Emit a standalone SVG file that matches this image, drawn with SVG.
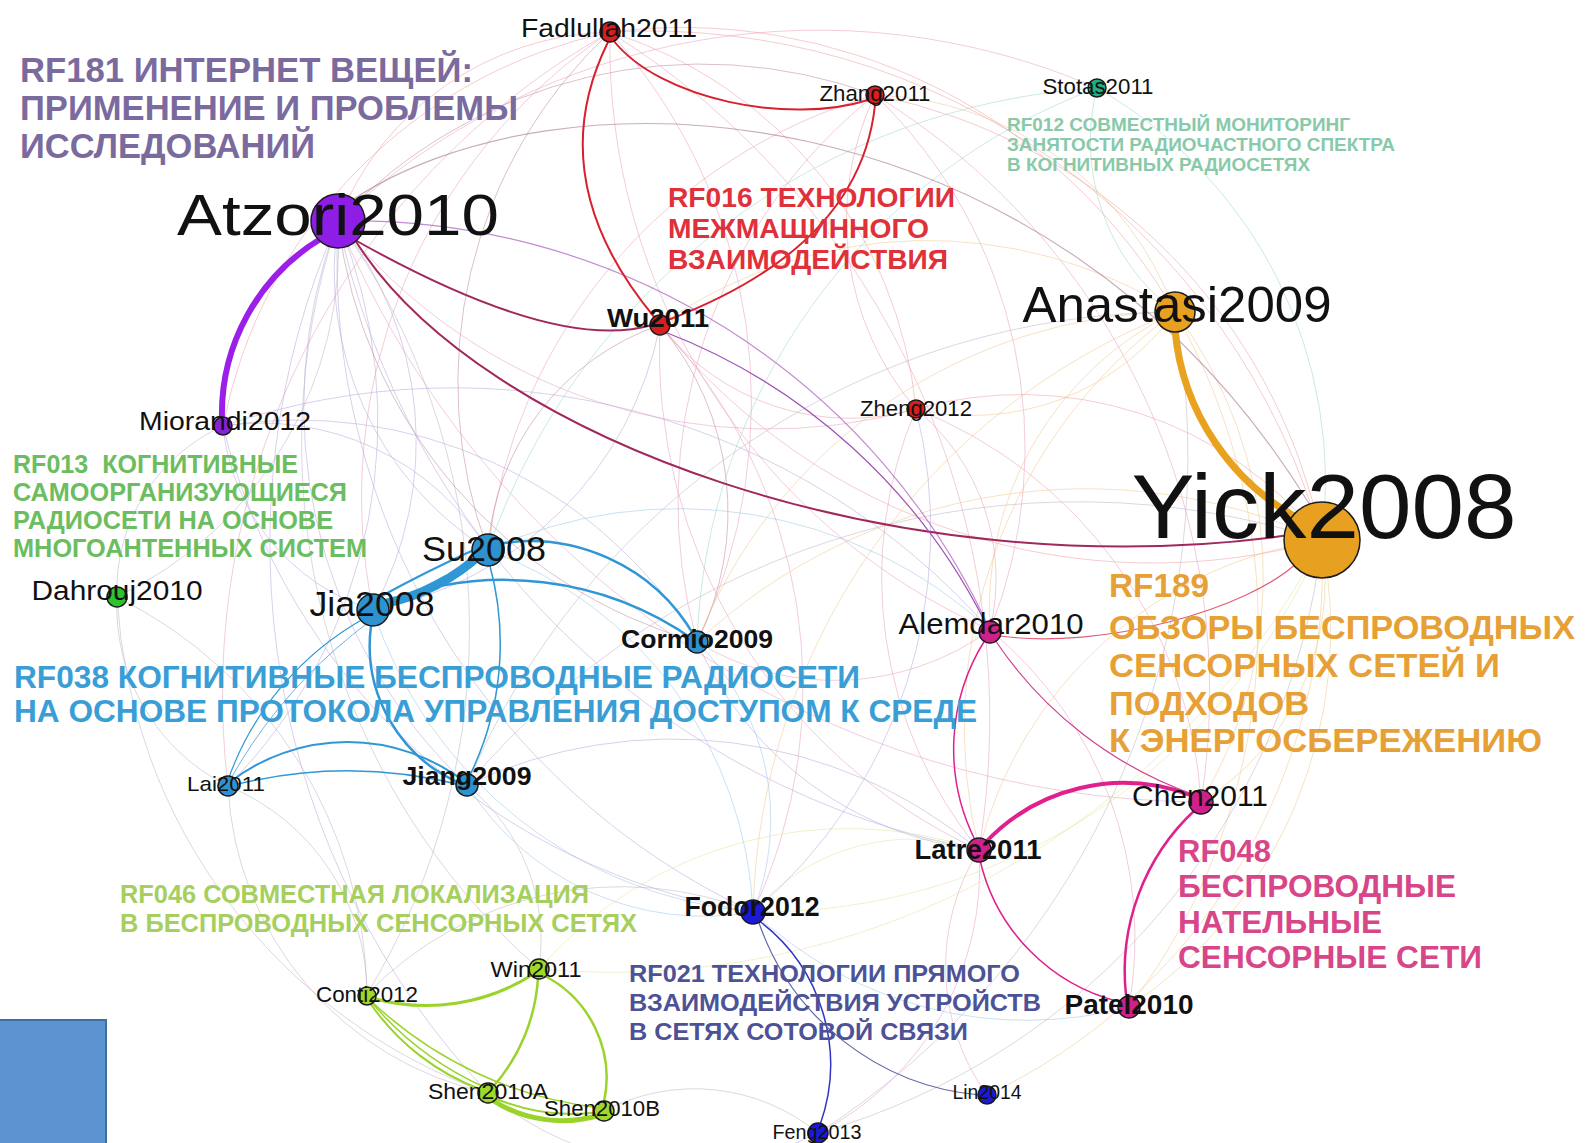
<svg xmlns="http://www.w3.org/2000/svg" width="1591" height="1143" viewBox="0 0 1591 1143">
<style>
  .e { fill: none; stroke-width: 1; opacity: .55 }
  .fp { stroke: #e7a2be } .fl { stroke: #b9a9dc } .fg { stroke: #bdb6c4 }
  .fr { stroke: #eea0a6 } .fo { stroke: #f0c890 } .ft { stroke: #9fd8c6 }
  .fb { stroke: #9cc8ea } .fy { stroke: #e4e4a0 } .fm { stroke: #c08aa0 }
  .s { fill: none }
  .node circle { stroke: #1b1b1b; stroke-width: 1.5 }
  .lbl { font-family: "Liberation Sans", Arial, sans-serif; fill: #111; text-anchor: middle }
  .b { font-weight: bold }
  .cl { font-family: "Liberation Sans", Arial, sans-serif; font-weight: bold }
</style>
<rect width="1591" height="1143" fill="#fff"/>

<!-- connectors -->
<g id="edges">
  <!-- faint background links -->
  <path class="e fl" d="M338 221A330 330 0 0 0 488 550"/>
  <path class="e fl" d="M338 221A350 350 0 0 1 373 610"/>
  <path class="e fl" d="M338 221A520 520 0 0 0 467 785"/>
  <path class="e fl" d="M338 221A520 520 0 0 1 228 786"/>
  <path class="e fm" d="M338 221A500 500 0 0 0 697 642"/>
  <path class="e fl" d="M338 221A720 720 0 0 0 753 912"/>
  <path class="e fp" d="M338 221A550 550 0 0 0 916 409"/>
  <path class="e fp" d="M338 221A940 940 0 0 0 1201 802"/>
  <path class="e fl" d="M338 221A810 810 0 0 0 979 850"/>
  <path class="e fg" d="M338 221A390 390 0 0 1 117 597"/>
  <path class="e fr" d="M338 221A300 300 0 0 1 610 32"/>
  <path class="e fm" d="M338 221A500 500 0 0 1 875 95"/>
  <path class="e fp" d="M338 221A700 700 0 0 1 1097 88"/>
  <path class="e fg" d="M338 221A700 700 0 0 0 539 969"/>
  <path class="e fg" d="M338 221A700 700 0 0 1 367 994"/>
  <path class="e fl" d="M338 221A800 800 0 0 0 488 1093"/>
  <path class="e fr" d="M610 32A700 700 0 0 1 1322 540"/>
  <path class="e fr" d="M610 32A570 570 0 0 1 1175 312"/>
  <path class="e fr" d="M610 32A440 440 0 0 1 916 409"/>
  <path class="e fp" d="M610 32A640 640 0 0 0 990 630"/>
  <path class="e fm" d="M610 32A480 480 0 0 0 488 550"/>
  <path class="e fp" d="M610 32A560 560 0 0 0 373 610"/>
  <path class="e fp" d="M610 32A555 555 0 0 1 697 642"/>
  <path class="e fr" d="M610 32A500 500 0 0 0 223 426"/>
  <path class="e fp" d="M610 32A760 760 0 0 0 228 786"/>
  <path class="e fp" d="M610 32A810 810 0 0 1 979 850"/>
  <path class="e fr" d="M875 95A570 570 0 0 1 1322 540"/>
  <path class="e fo" d="M875 95A330 330 0 0 1 1175 312"/>
  <path class="e fr" d="M875 95A290 290 0 0 0 916 409"/>
  <path class="e fp" d="M875 95A490 490 0 0 1 990 630"/>
  <path class="e fp" d="M875 95A520 520 0 0 0 697 642"/>
  <path class="e fp" d="M875 95A540 540 0 0 0 488 550"/>
  <path class="e fp" d="M875 95A700 700 0 0 1 1201 802"/>
  <path class="e fr" d="M660 325A630 630 0 0 0 1322 540"/>
  <path class="e fr" d="M660 325A240 240 0 0 0 916 409"/>
  <path class="e fm" d="M660 325A290 290 0 0 1 697 642"/>
  <path class="e fp" d="M660 325A550 550 0 0 0 979 850"/>
  <path class="e fp" d="M660 325A530 530 0 0 1 753 912"/>
  <path class="e fm" d="M660 325A255 255 0 0 0 488 550"/>
  <path class="e fl" d="M660 325A360 360 0 0 1 373 610"/>
  <path class="e fo" d="M660 325A465 465 0 0 1 1175 312"/>
  <path class="e ft" d="M1097 88A455 455 0 0 1 1322 540"/>
  <path class="e ft" d="M1097 88A615 615 0 0 0 697 642"/>
  <path class="e ft" d="M1097 88A690 690 0 0 0 488 550"/>
  <path class="e ft" d="M1097 88A215 215 0 0 0 1175 312"/>
  <path class="e fo" d="M1175 312A440 440 0 0 1 1201 802"/>
  <path class="e fo" d="M1175 312A630 630 0 0 1 1129 1007"/>
  <path class="e fo" d="M1175 312A515 515 0 0 0 979 850"/>
  <path class="e fo" d="M1175 312A330 330 0 0 0 990 630"/>
  <path class="e fo" d="M1175 312A520 520 0 0 0 697 642"/>
  <path class="e fo" d="M1175 312A660 660 0 0 0 753 912"/>
  <path class="e fo" d="M1175 312A250 250 0 0 1 916 409"/>
  <path class="e fg" d="M1175 312A770 770 0 0 0 467 785"/>
  <path class="e fo" d="M1322 540A260 260 0 0 1 1201 802"/>
  <path class="e fo" d="M1322 540A455 455 0 0 1 1129 1007"/>
  <path class="e fo" d="M1322 540A415 415 0 0 0 979 850"/>
  <path class="e fy" d="M1322 540A610 610 0 0 1 753 912"/>
  <path class="e fo" d="M1322 540A585 585 0 0 1 987 1095"/>
  <path class="e fg" d="M1322 540A700 700 0 0 1 818 1133"/>
  <path class="e fy" d="M1322 540A800 800 0 0 1 539 969"/>
  <path class="e fg" d="M1322 540A800 800 0 0 0 467 785"/>
  <path class="e fo" d="M1322 540A570 570 0 0 0 697 642"/>
  <path class="e fr" d="M1322 540A385 385 0 0 0 916 409"/>
  <path class="e fl" d="M223 426A265 265 0 0 1 488 550"/>
  <path class="e fl" d="M223 426A215 215 0 0 0 373 610"/>
  <path class="e fl" d="M223 426A470 470 0 0 1 697 642"/>
  <path class="e fl" d="M223 426A715 715 0 0 1 990 630"/>
  <path class="e fl" d="M223 426A650 650 0 0 0 753 912"/>
  <path class="e fg" d="M223 426A180 180 0 0 0 117 597"/>
  <path class="e fb" d="M488 550A405 405 0 0 1 753 912"/>
  <path class="e fb" d="M373 610A440 440 0 0 0 753 912"/>
  <path class="e fb" d="M467 785A280 280 0 0 0 753 912"/>
  <path class="e fg" d="M228 786A225 225 0 0 1 367 994"/>
  <path class="e fg" d="M117 597A200 200 0 0 0 228 786"/>
  <path class="e fg" d="M117 597A560 560 0 0 0 488 1093"/>
  <path class="e fb" d="M697 642A250 250 0 0 1 753 912"/>
  <path class="e fp" d="M697 642A265 265 0 0 0 990 630"/>
  <path class="e fb" d="M488 550A460 460 0 0 1 990 630"/>
  <path class="e fy" d="M753 912A210 210 0 0 1 979 850"/>
  <path class="e fy" d="M539 969A410 410 0 0 1 979 850"/>
  <path class="e fg" d="M367 994A355 355 0 0 1 753 912"/>
  <path class="e fg" d="M604 1111A195 195 0 0 1 818 1133"/>
  <path class="e fg" d="M488 1093A300 300 0 0 0 818 1133"/>
  <path class="e fp" d="M818 1133A295 295 0 0 0 979 850"/>
  <path class="e fp" d="M987 1095A220 220 0 0 1 979 850"/>
  <path class="e fg" d="M818 1133A805 805 0 0 0 1175 312"/>
  <path class="e fg" d="M467 785A200 200 0 0 1 539 969"/>
  <path class="e fg" d="M228 786A330 330 0 0 0 488 1093"/>
  <path class="e fg" d="M117 597A450 450 0 0 1 367 994"/>
  <path class="e fp" d="M916 409A220 220 0 0 1 990 630"/>
  <path class="e fp" d="M916 409A450 450 0 0 1 1201 802"/>
  <path class="e fp" d="M916 409A430 430 0 0 0 979 850"/>
  <path class="e fl" d="M916 409A500 500 0 0 1 753 912"/>
  <path class="e fl" d="M697 642A350 350 0 0 0 979 850"/>
  <path class="e fl" d="M467 785A480 480 0 0 1 979 850"/>
  <path class="e fb" d="M753 912A400 400 0 0 0 1129 1007"/>
  <path class="e fp" d="M990 630A400 400 0 0 1 1129 1007"/>

  <!-- RF181 -->
  <path class="s" d="M322 238A205 205 0 0 0 222 420" stroke="#9b1fe8" stroke-width="6"/>
  <path class="s" d="M338 221A700 700 0 0 1 990 630" stroke="#b070c4" stroke-width="1.2" opacity=".8"/>
  <path class="s" d="M355 240Q556 353 652 325" stroke="#a0285c" stroke-width="2"/>
  <path class="s" d="M355 240C480 440 900 590 1290 535" stroke="#a0285c" stroke-width="2"/>
  <path class="s" d="M345 205C550 60 1050 80 1310 505" stroke="#9a6a80" stroke-width="1.2" opacity=".55"/>

  <!-- RF016 -->
  <path class="s" d="M613 40C660 100 790 125 868 100" stroke="#d8202e" stroke-width="2"/>
  <path class="s" d="M608 42Q540 180 655 318" stroke="#d8202e" stroke-width="2"/>
  <path class="s" d="M875 105Q860 247 668 320" stroke="#d8202e" stroke-width="2"/>
  <path class="s" d="M665 332A600 600 0 0 1 985 622" stroke="#a050b8" stroke-width="1.2"/>

  <!-- RF189 -->
  <path class="s" d="M1175 330A240 240 0 0 0 1305 522" stroke="#e8a21e" stroke-width="7"/>
  <path class="s" d="M1000 636C1100 650 1250 610 1300 560" stroke="#e0607a" stroke-width="1.2"/>

  <!-- RF038 -->
  <path class="s" d="M383 604Q440 592 482 553" stroke="#2f97d4" stroke-width="9"/>
  <path class="s" d="M378 598Q425 572 478 548" stroke="#2f97d4" stroke-width="2"/>
  <path class="s" d="M492 545A190 190 0 0 1 695 637" stroke="#2f97d4" stroke-width="2.5"/>
  <path class="s" d="M383 603A330 330 0 0 1 694 640" stroke="#2f97d4" stroke-width="2.5"/>
  <path class="s" d="M371 626A150 150 0 0 0 462 784" stroke="#2f97d4" stroke-width="2.5"/>
  <path class="s" d="M490 566A300 300 0 0 1 470 775" stroke="#2f97d4" stroke-width="1.5"/>
  <path class="s" d="M230 782A193 193 0 0 1 465 782" stroke="#2f97d4" stroke-width="2"/>
  <path class="s" d="M230 786A468 468 0 0 1 465 786" stroke="#2f97d4" stroke-width="1.5"/>
  <path class="s" d="M228 780A300 300 0 0 1 365 618" stroke="#2f97d4" stroke-width="1.2"/>
  <path class="s" d="M230 780A500 500 0 0 1 480 560" stroke="#2f97d4" stroke-width="1" opacity=".7"/>

  <!-- RF048 -->
  <path class="s" d="M985 843A190 190 0 0 1 1190 795" stroke="#e0208c" stroke-width="4"/>
  <path class="s" d="M1195 810A220 220 0 0 0 1126 995" stroke="#e0208c" stroke-width="2.5"/>
  <path class="s" d="M980 860A190 190 0 0 0 1120 1002" stroke="#e0208c" stroke-width="1.5"/>
  <path class="s" d="M985 640A205 205 0 0 0 975 840" stroke="#e0208c" stroke-width="1.5"/>
  <path class="s" d="M995 640A400 400 0 0 0 1195 795" stroke="#d04090" stroke-width="1.2"/>

  <!-- RF021 -->
  <path class="s" d="M758 920A180 180 0 0 1 820 1125" stroke="#3434c4" stroke-width="1.5"/>
  <path class="s" d="M758 920A258 258 0 0 0 980 1095" stroke="#6068a8" stroke-width="1.2"/>

  <!-- RF046 -->
  <path class="s" d="M535 973A198 198 0 0 1 372 998" stroke="#9ad42a" stroke-width="3"/>
  <path class="s" d="M538 978A182 182 0 0 1 492 1088" stroke="#9ad42a" stroke-width="2.5"/>
  <path class="s" d="M543 975A115 115 0 0 1 604 1102" stroke="#9ad42a" stroke-width="2.5"/>
  <path class="s" d="M370 1003A235 235 0 0 0 482 1090" stroke="#9ad42a" stroke-width="2"/>
  <path class="s" d="M368 998A320 320 0 0 0 484 1087" stroke="#9ad42a" stroke-width="1.5"/>
  <path class="s" d="M370 1000A400 400 0 0 0 600 1108" stroke="#9ad42a" stroke-width="1.5"/>
  <path class="s" d="M492 1100A130 130 0 0 0 600 1115" stroke="#9ad42a" stroke-width="5"/>
  <path class="s" d="M492 1097A200 200 0 0 0 600 1112" stroke="#9ad42a" stroke-width="2"/>
</g>

<!-- cluster titles -->
<g id="cluster-labels" class="cl">
  <g fill="#7a6a9e" font-size="35">
    <text x="20" y="82" textLength="453" lengthAdjust="spacingAndGlyphs">RF181 ИНТЕРНЕТ ВЕЩЕЙ:</text>
    <text x="20" y="120" textLength="498" lengthAdjust="spacingAndGlyphs">ПРИМЕНЕНИЕ И ПРОБЛЕМЫ</text>
    <text x="20" y="158" textLength="295" lengthAdjust="spacingAndGlyphs">ИССЛЕДОВАНИЙ</text>
  </g>
  <g fill="#e0303a" font-size="28">
    <text x="668" y="207" textLength="287" lengthAdjust="spacingAndGlyphs">RF016 ТЕХНОЛОГИИ</text>
    <text x="668" y="238" textLength="261" lengthAdjust="spacingAndGlyphs">МЕЖМАЩИННОГО</text>
    <text x="668" y="269" textLength="280" lengthAdjust="spacingAndGlyphs">ВЗАИМОДЕЙСТВИЯ</text>
  </g>
  <g fill="#88c9a9" font-size="18">
    <text x="1007" y="131" textLength="343" lengthAdjust="spacingAndGlyphs">RF012 СОВМЕСТНЫЙ МОНИТОРИНГ</text>
    <text x="1007" y="151" textLength="388" lengthAdjust="spacingAndGlyphs">ЗАНЯТОСТИ РАДИОЧАСТНОГО СПЕКТРА</text>
    <text x="1007" y="171" textLength="303" lengthAdjust="spacingAndGlyphs">В КОГНИТИВНЫХ РАДИОСЕТЯХ</text>
  </g>
  <g fill="#e6a035" font-size="34">
    <text x="1109" y="597" textLength="100" lengthAdjust="spacingAndGlyphs">RF189</text>
    <text x="1109" y="639" textLength="466" lengthAdjust="spacingAndGlyphs">ОБЗОРЫ БЕСПРОВОДНЫХ</text>
    <text x="1109" y="677" textLength="391" lengthAdjust="spacingAndGlyphs">СЕНСОРНЫХ СЕТЕЙ И</text>
    <text x="1109" y="715" textLength="200" lengthAdjust="spacingAndGlyphs">ПОДХОДОВ</text>
    <text x="1109" y="752" textLength="433" lengthAdjust="spacingAndGlyphs">К ЭНЕРГОСБЕРЕЖЕНИЮ</text>
  </g>
  <g fill="#6cbd5f" font-size="25">
    <text x="13" y="473" textLength="285" lengthAdjust="spacingAndGlyphs">RF013&#160; КОГНИТИВНЫЕ</text>
    <text x="13" y="501" textLength="334" lengthAdjust="spacingAndGlyphs">САМООРГАНИЗУЮЩИЕСЯ</text>
    <text x="13" y="529" textLength="320" lengthAdjust="spacingAndGlyphs">РАДИОСЕТИ НА ОСНОВЕ</text>
    <text x="13" y="557" textLength="354" lengthAdjust="spacingAndGlyphs">МНОГОАНТЕННЫХ СИСТЕМ</text>
  </g>
  <g fill="#3a9ed6" font-size="31">
    <text x="14" y="688" textLength="846" lengthAdjust="spacingAndGlyphs">RF038 КОГНИТИВНЫЕ БЕСПРОВОДНЫЕ РАДИОСЕТИ</text>
    <text x="14" y="722" textLength="963" lengthAdjust="spacingAndGlyphs">НА ОСНОВЕ ПРОТОКОЛА УПРАВЛЕНИЯ ДОСТУПОМ К СРЕДЕ</text>
  </g>
  <g fill="#a6cf5e" font-size="25">
    <text x="120" y="903" textLength="469" lengthAdjust="spacingAndGlyphs">RF046 СОВМЕСТНАЯ ЛОКАЛИЗАЦИЯ</text>
    <text x="120" y="932" textLength="517" lengthAdjust="spacingAndGlyphs">В БЕСПРОВОДНЫХ СЕНСОРНЫХ СЕТЯХ</text>
  </g>
  <g fill="#4d5296" font-size="24.5">
    <text x="629" y="982" textLength="391" lengthAdjust="spacingAndGlyphs">RF021 ТЕХНОЛОГИИ ПРЯМОГО</text>
    <text x="629" y="1011" textLength="412" lengthAdjust="spacingAndGlyphs">ВЗАИМОДЕЙСТВИЯ УСТРОЙСТВ</text>
    <text x="629" y="1040" textLength="339" lengthAdjust="spacingAndGlyphs">В СЕТЯХ СОТОВОЙ СВЯЗИ</text>
  </g>
  <g fill="#d8468a" font-size="31">
    <text x="1178" y="862" textLength="93" lengthAdjust="spacingAndGlyphs">RF048</text>
    <text x="1178" y="897" textLength="278" lengthAdjust="spacingAndGlyphs">БЕСПРОВОДНЫЕ</text>
    <text x="1178" y="933" textLength="204" lengthAdjust="spacingAndGlyphs">НАТЕЛЬНЫЕ</text>
    <text x="1178" y="968" textLength="304" lengthAdjust="spacingAndGlyphs">СЕНСОРНЫЕ СЕТИ</text>
  </g>
</g>

<!-- nodes -->
<g id="node-Atzori2010" class="node"><circle cx="338" cy="221" r="27" fill="#8e1ee6"/><text class="lbl" x="338" y="235" font-size="58" textLength="322" lengthAdjust="spacingAndGlyphs">Atzori2010</text></g>
<g id="node-Fadlullah2011" class="node"><circle cx="610" cy="32" r="10" fill="#d81e1e"/><text class="lbl" x="609" y="37" font-size="25" textLength="176" lengthAdjust="spacingAndGlyphs">Fadlullah2011</text></g>
<g id="node-Zhang2011" class="node"><circle cx="875" cy="95" r="9" fill="#d81e1e"/><text class="lbl" x="875" y="101" font-size="22" textLength="111" lengthAdjust="spacingAndGlyphs">Zhang2011</text></g>
<g id="node-Stotas2011" class="node"><circle cx="1097" cy="88" r="9" fill="#20b080"/><text class="lbl" x="1098" y="94" font-size="22" textLength="111" lengthAdjust="spacingAndGlyphs">Stotas2011</text></g>
<g id="node-Wu2011" class="node"><circle cx="660" cy="325" r="10" fill="#d81e1e"/><text class="lbl b" x="658" y="327" font-size="26" textLength="102" lengthAdjust="spacingAndGlyphs">Wu2011</text></g>
<g id="node-Anastasi2009" class="node"><circle cx="1175" cy="312" r="20" fill="#e8a020"/><text class="lbl" x="1177" y="322" font-size="50" textLength="309" lengthAdjust="spacingAndGlyphs">Anastasi2009</text></g>
<g id="node-Zheng2012" class="node"><circle cx="916" cy="409" r="9" fill="#d81e1e"/><text class="lbl" x="916" y="416" font-size="22" textLength="112" lengthAdjust="spacingAndGlyphs">Zheng2012</text></g>
<g id="node-Yick2008" class="node"><circle cx="1322" cy="540" r="38" fill="#e8a020"/><text class="lbl" x="1324" y="538" font-size="90" textLength="385" lengthAdjust="spacingAndGlyphs">Yick2008</text></g>
<g id="node-Miorandi2012" class="node"><circle cx="223" cy="426" r="9" fill="#8a20d8"/><text class="lbl" x="225" y="430" font-size="26" textLength="172" lengthAdjust="spacingAndGlyphs">Miorandi2012</text></g>
<g id="node-Dahrouj2010" class="node"><circle cx="117" cy="597" r="10" fill="#2cc42c"/><text class="lbl" x="117" y="600" font-size="27" textLength="171" lengthAdjust="spacingAndGlyphs">Dahrouj2010</text></g>
<g id="node-Su2008" class="node"><circle cx="488" cy="550" r="16" fill="#2e92d0"/><text class="lbl" x="484" y="561" font-size="35" textLength="124" lengthAdjust="spacingAndGlyphs">Su2008</text></g>
<g id="node-Jia2008" class="node"><circle cx="373" cy="610" r="16" fill="#2e92d0"/><text class="lbl" x="372" y="616" font-size="35" textLength="125" lengthAdjust="spacingAndGlyphs">Jia2008</text></g>
<g id="node-Cormio2009" class="node"><circle cx="697" cy="642" r="11" fill="#2e92d0"/><text class="lbl b" x="697" y="648" font-size="25" textLength="152" lengthAdjust="spacingAndGlyphs">Cormio2009</text></g>
<g id="node-Alemdar2010" class="node"><circle cx="990" cy="632" r="11" fill="#d0208c"/><text class="lbl" x="991" y="634" font-size="29" textLength="185" lengthAdjust="spacingAndGlyphs">Alemdar2010</text></g>
<g id="node-Lai2011" class="node"><circle cx="228" cy="786" r="10" fill="#2e92d0"/><text class="lbl" x="226" y="791" font-size="21" textLength="78" lengthAdjust="spacingAndGlyphs">Lai2011</text></g>
<g id="node-Jiang2009" class="node"><circle cx="467" cy="785" r="11" fill="#2e92d0"/><text class="lbl b" x="467" y="785" font-size="26" textLength="129" lengthAdjust="spacingAndGlyphs">Jiang2009</text></g>
<g id="node-Chen2011" class="node"><circle cx="1201" cy="802" r="12" fill="#d0208c"/><text class="lbl" x="1200" y="806" font-size="29" textLength="136" lengthAdjust="spacingAndGlyphs">Chen2011</text></g>
<g id="node-Latre2011" class="node"><circle cx="979" cy="850" r="12" fill="#d0208c"/><text class="lbl b" x="978" y="859" font-size="27" textLength="127" lengthAdjust="spacingAndGlyphs">Latre2011</text></g>
<g id="node-Patel2010" class="node"><circle cx="1129" cy="1007" r="11" fill="#d0208c"/><text class="lbl b" x="1129" y="1014" font-size="27" textLength="129" lengthAdjust="spacingAndGlyphs">Patel2010</text></g>
<g id="node-Fodor2012" class="node"><circle cx="753" cy="912" r="12" fill="#1a1ad8"/><text class="lbl b" x="752" y="916" font-size="27" textLength="135" lengthAdjust="spacingAndGlyphs">Fodor2012</text></g>
<g id="node-Lin2014" class="node"><circle cx="987" cy="1095" r="9" fill="#1a1ad8"/><text class="lbl" x="987" y="1099" font-size="20" textLength="69" lengthAdjust="spacingAndGlyphs">Lin2014</text></g>
<g id="node-Feng2013" class="node"><circle cx="818" cy="1133" r="10" fill="#1a1ad8"/><text class="lbl" x="817" y="1139" font-size="20" textLength="89" lengthAdjust="spacingAndGlyphs">Feng2013</text></g>
<g id="node-Win2011" class="node"><circle cx="539" cy="969" r="10" fill="#9ed82a"/><text class="lbl" x="536" y="977" font-size="22" textLength="91" lengthAdjust="spacingAndGlyphs">Win2011</text></g>
<g id="node-Conti2012" class="node"><circle cx="367" cy="996" r="9" fill="#9ed82a"/><text class="lbl" x="367" y="1002" font-size="22" textLength="102" lengthAdjust="spacingAndGlyphs">Conti2012</text></g>
<g id="node-Shen2010A" class="node"><circle cx="488" cy="1093" r="10" fill="#9ed82a"/><text class="lbl" x="488" y="1099" font-size="22" textLength="120" lengthAdjust="spacingAndGlyphs">Shen2010A</text></g>
<g id="node-Shen2010B" class="node"><circle cx="604" cy="1111" r="10" fill="#9ed82a"/><text class="lbl" x="602" y="1116" font-size="22" textLength="116" lengthAdjust="spacingAndGlyphs">Shen2010B</text></g>

<!-- corner block -->
<rect x="-2" y="1020" width="108" height="130" fill="#5b94d0" stroke="#3e6fa3" stroke-width="2"/>
</svg>
